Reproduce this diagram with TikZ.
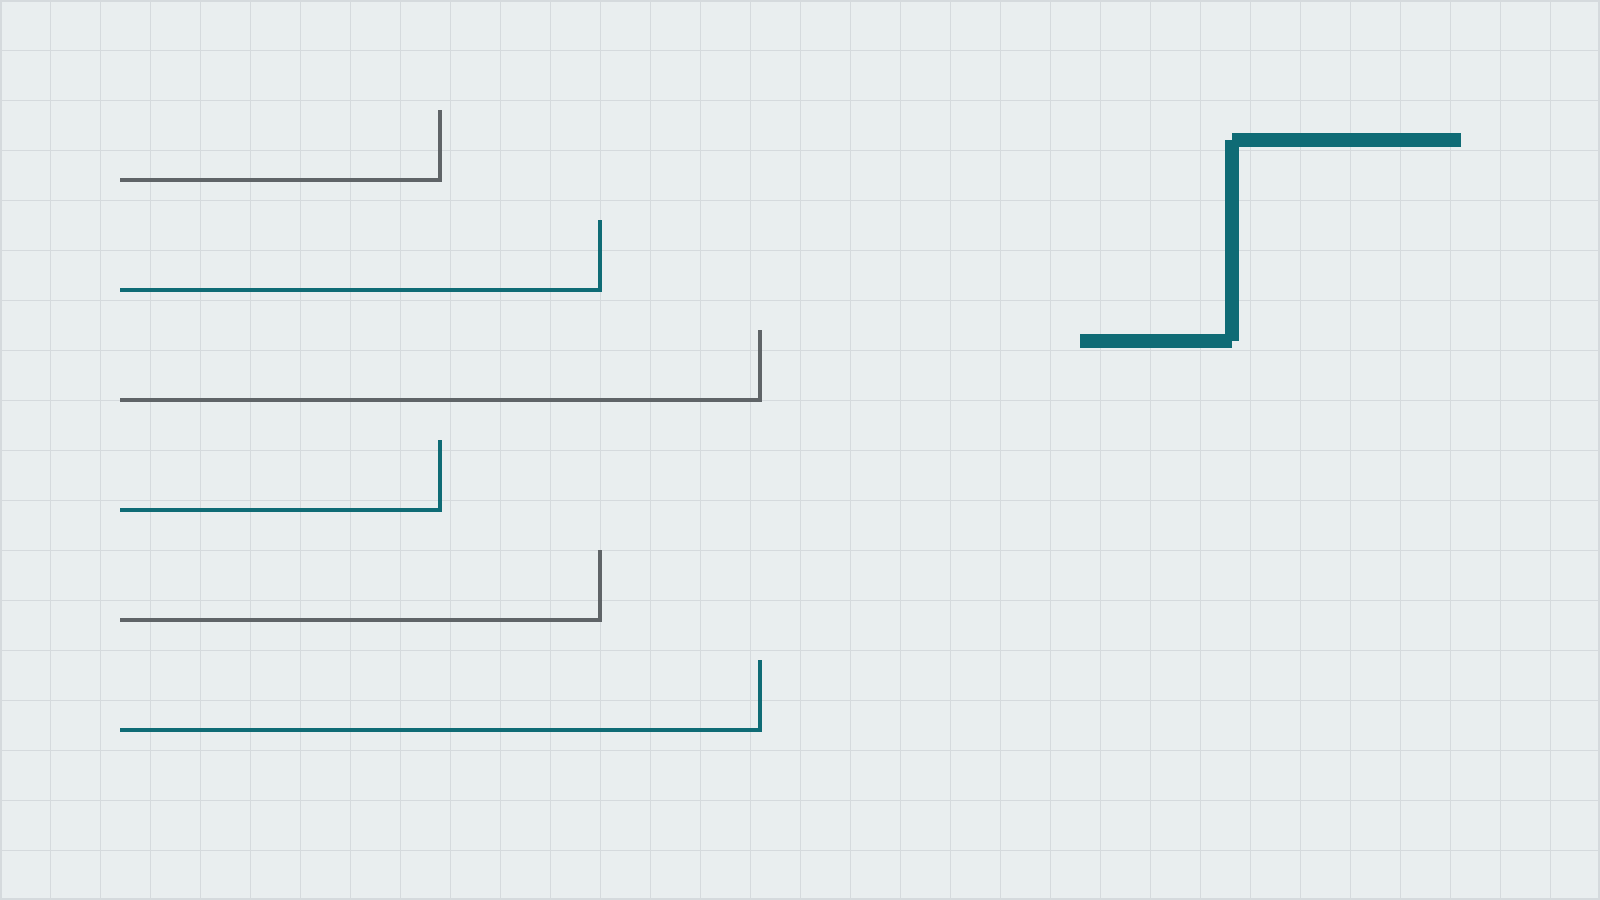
\documentclass[tikz,border=0pt]{standalone}
\usepackage{tikz}
\usetikzlibrary{positioning}

\definecolor{paper}{RGB}{233,238,239}
\definecolor{gridline}{RGB}{213,218,221}
\definecolor{slate}{RGB}{95,100,103}
\definecolor{petrol}{RGB}{15,107,117}

\begin{document}
\begin{tikzpicture}[x=0.01cm, y=-0.01cm]
    \tikzstyle{rung} = [line width=0.043cm, line cap=butt]
    \tikzstyle{bar} = [line width=0.14cm, line cap=butt]

    % paper and grid
    \useasboundingbox (0,0) rectangle (1600,900);
    \fill[paper] (0,0) rectangle (1600,900);
    \draw[gridline, line width=0.01cm] (0,0) grid[step=0.5cm] (1600,900);
    \draw[gridline, line width=0.02cm] (1,1) rectangle (1599,899);

    % steps on the left
    \coordinate (s1a) at (120,180);  \coordinate (s1b) at (442,180);  \coordinate (s1c) at (440,110);
    \coordinate (s2a) at (120,290);  \coordinate (s2b) at (602,290);  \coordinate (s2c) at (600,220);
    \coordinate (s3a) at (120,400);  \coordinate (s3b) at (762,400);  \coordinate (s3c) at (760,330);
    \coordinate (s4a) at (120,510);  \coordinate (s4b) at (442,510);  \coordinate (s4c) at (440,440);
    \coordinate (s5a) at (120,620);  \coordinate (s5b) at (602,620);  \coordinate (s5c) at (600,550);
    \coordinate (s6a) at (120,730);  \coordinate (s6b) at (762,730);  \coordinate (s6c) at (760,660);

    \path[rung]
        (s1a) edge[slate] (s1b)
        (s1b -| s1c) edge[slate] (s1c)
        (s2a) edge[petrol] (s2b)
        (s2b -| s2c) edge[petrol] (s2c)
        (s3a) edge[slate] (s3b)
        (s3b -| s3c) edge[slate] (s3c)
        (s4a) edge[petrol] (s4b)
        (s4b -| s4c) edge[petrol] (s4c)
        (s5a) edge[slate] (s5b)
        (s5b -| s5c) edge[slate] (s5c)
        (s6a) edge[petrol] (s6b)
        (s6b -| s6c) edge[petrol] (s6c)
    ;

    % big step on the right
    \coordinate (z1) at (1080,341);
    \coordinate (z2) at (1232,341);
    \coordinate (z3) at (1232,140);
    \coordinate (z4) at (1461,140);

    \path[bar]
        (z1) edge[petrol] (z2)
        (z2) edge[petrol] (z3)
        (z3) edge[petrol] (z4)
    ;
\end{tikzpicture}
\end{document}
